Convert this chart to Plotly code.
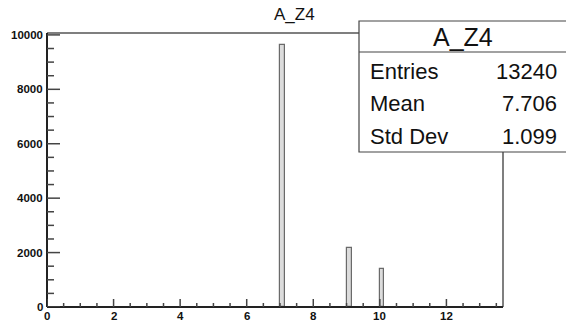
import plotly.graph_objects as go

# Histogram A_Z4: 100 bins over [0, 13.7]
bin_width = 0.137
bin_centers = [7.0685, 9.0865, 10.0685]
bin_counts = [9630, 2165, 1395]

x_range = [0, 13.7]
y_range = [0, 10070]

x_major = [0, 2, 4, 6, 8, 10, 12]
y_major = [0, 2000, 4000, 6000, 8000, 10000]

stats_title = "A_Z4"
stats_labels = ["Entries", "Mean", "Std Dev"]
stats_values = ["13240", "7.706", "1.099"]

W, H = 566, 323
L, R, T, B = 47, 503, 33, 307


def px(x):
    return (x - L) / (R - L)


def py(y):
    return (B - y) / (B - T)


fig = go.Figure()
fig.add_trace(go.Bar(
    x=bin_centers, y=bin_counts, width=bin_width,
    marker=dict(color="#dcdcdc", line=dict(color="#6a6a6a", width=1.2)),
    showlegend=False, hoverinfo="skip",
))

axis_common = dict(showgrid=False, zeroline=False, showline=False, ticks="")

fig.update_layout(
    width=W, height=H,
    margin=dict(l=L, r=W - R, t=T, b=H - B),
    paper_bgcolor="white", plot_bgcolor="white",
    xaxis=dict(range=x_range, showticklabels=False, **axis_common),
    yaxis=dict(range=y_range, showticklabels=False, **axis_common),
    bargap=0,
)

shapes = []
ink = "#222"
# frame
shapes.append(dict(type="line", xref="paper", yref="paper", x0=0, x1=1, y0=1, y1=1,
                   line=dict(color="#555", width=1.5)))
shapes.append(dict(type="line", xref="paper", yref="paper", x0=1, x1=1, y0=0, y1=1,
                   line=dict(color="#555", width=1.5)))
shapes.append(dict(type="line", xref="paper", yref="paper", x0=0, x1=0, y0=0, y1=1,
                   line=dict(color=ink, width=2)))
shapes.append(dict(type="line", xref="paper", yref="paper", x0=0, x1=1, y0=0, y1=0,
                   line=dict(color=ink, width=2)))

# x ticks (inside, pointing up)
xt = 0.0
while xt <= x_range[1] + 1e-9:
    major = abs(xt - round(xt / 2) * 2) < 1e-9
    ln = 8 if major else 4
    shapes.append(dict(type="line", xref="x", yref="paper", x0=xt, x1=xt,
                       y0=0, y1=ln / (B - T), line=dict(color="#444", width=1.5)))
    xt += 0.5

# y ticks (inside, pointing right)
yt = 0
while yt <= y_range[1]:
    major = yt % 2000 == 0
    ln = 13 if major else 7
    shapes.append(dict(type="line", xref="paper", yref="y", x0=0, x1=ln / (R - L),
                       y0=yt, y1=yt, line=dict(color="#444", width=1.5)))
    yt += 500

tick_font = dict(family="Liberation Sans", size=11.5, color="#111", weight="bold")
annotations = []
for v in x_major:
    annotations.append(dict(x=v, y=0, xref="x", yref="paper", text=str(v),
                            showarrow=False, yanchor="top", xanchor="center", yshift=-1,
                            font=tick_font))
for v in y_major:
    annotations.append(dict(x=0, y=v, xref="paper", yref="y", text=str(v),
                            showarrow=False, xanchor="right", yanchor="middle", xshift=-2,
                            font=tick_font))

# histogram title
annotations.append(dict(x=px(294), y=py(14), xref="paper", yref="paper", text="A_Z4",
                        showarrow=False, xanchor="center", yanchor="middle",
                        font=dict(family="Liberation Sans", size=17, color="#111")))

# statistics box
bx0, bx1, by0, by1, bdiv = 359, 566, 21, 152, 52
shapes.append(dict(type="rect", xref="paper", yref="paper",
                   x0=px(bx0), x1=px(bx1 + 2), y0=py(by1), y1=py(by0),
                   fillcolor="white", line=dict(color="#444", width=1.2), layer="above"))
shapes.append(dict(type="line", xref="paper", yref="paper",
                   x0=px(bx0), x1=px(bx1 + 2), y0=py(bdiv), y1=py(bdiv),
                   line=dict(color="#444", width=1.2), layer="above"))
annotations.append(dict(x=px(463), y=py(37), xref="paper", yref="paper", text=stats_title,
                        showarrow=False, xanchor="center", yanchor="middle",
                        font=dict(family="Liberation Sans", size=25, color="#111")))
row_y = [71, 103, 136]
for lab, val, ry in zip(stats_labels, stats_values, row_y):
    annotations.append(dict(x=px(368), y=py(ry), xref="paper", yref="paper", text=lab,
                            showarrow=False, xanchor="left", yanchor="middle",
                            font=dict(family="Liberation Sans", size=22, color="#111")))
    annotations.append(dict(x=px(559), y=py(ry), xref="paper", yref="paper", text=val,
                            showarrow=False, xanchor="right", yanchor="middle",
                            font=dict(family="Liberation Sans", size=22, color="#111")))

fig.update_layout(shapes=shapes, annotations=annotations)
fig.write_html("out.html")
